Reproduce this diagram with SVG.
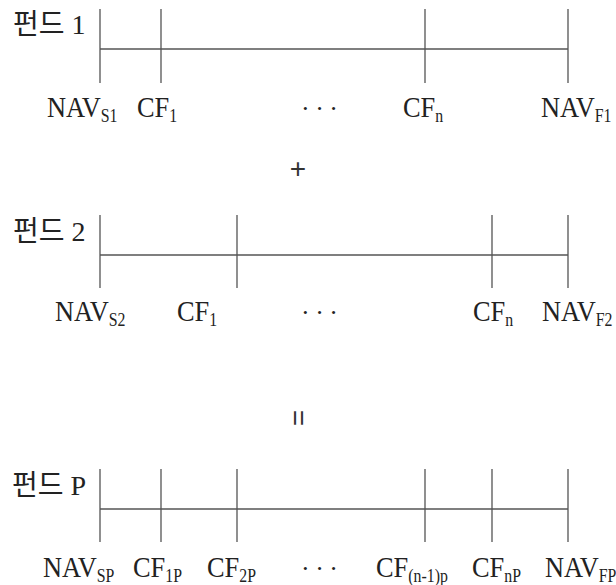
<svg xmlns="http://www.w3.org/2000/svg" width="616" height="585" viewBox="0 0 616 585">
<style>
.ln{stroke:#555;stroke-width:1.3;fill:none}
.t{font-family:"Liberation Serif","Noto Sans CJK KR",serif;font-size:30px;fill:#222}
.h{font-family:"Liberation Serif","Noto Sans CJK KR",serif;font-size:28px;fill:#222}
.s{font-size:18px}
.d{font-family:"Liberation Serif",serif;font-size:26px;fill:#222;letter-spacing:5.5px}
.op{font-family:"Liberation Sans",sans-serif;font-size:28px;fill:#333}
</style>
<rect width="616" height="585" fill="#fff"/>
<g id="fund1">
<text class="h" x="13" y="34">펀드 1</text>
<path class="ln" d="M100,9V83M161,9V83M425,9V83M568,9V83M100,49H568"/>
<text class="t" transform="translate(47,117) scale(0.88,1)">NAV<tspan class="s" dy="5">S1</tspan></text>
<text class="t" transform="translate(137,117) scale(0.88,1)">CF<tspan class="s" dy="5">1</tspan></text>
<text class="d" x="301" y="117">···</text>
<text class="t" transform="translate(403,117) scale(0.88,1)">CF<tspan class="s" dy="5">n</tspan></text>
<text class="t" transform="translate(541,117) scale(0.88,1)">NAV<tspan class="s" dy="5">F1</tspan></text>
</g>
<g id="plus">
<text class="op" x="298" y="178" text-anchor="middle">+</text>
</g>
<g id="fund2">
<text class="h" x="13" y="241">펀드 2</text>
<path class="ln" d="M100,215V288M237,215V288M492,215V288M568,215V288M100,255H568"/>
<text class="t" transform="translate(55,321) scale(0.88,1)">NAV<tspan class="s" dy="5">S2</tspan></text>
<text class="t" transform="translate(177,321) scale(0.88,1)">CF<tspan class="s" dy="5">1</tspan></text>
<text class="d" x="301" y="321">···</text>
<text class="t" transform="translate(473,321) scale(0.88,1)">CF<tspan class="s" dy="5">n</tspan></text>
<text class="t" transform="translate(542,321) scale(0.88,1)">NAV<tspan class="s" dy="5">F2</tspan></text>
</g>
<g id="equals">
<text class="op" x="0" y="0" text-anchor="middle" transform="translate(298.5,418) rotate(90) translate(0,10)">=</text>
</g>
<g id="fundP">
<text class="h" x="12" y="495">펀드 P</text>
<path class="ln" d="M100,469V542M161,469V542M237,469V542M425,469V542M492,469V542M568,469V542M100,509H568"/>
<text class="t" transform="translate(43,577) scale(0.88,1)">NAV<tspan class="s" dy="5">SP</tspan></text>
<text class="t" transform="translate(133,577) scale(0.88,1)">CF<tspan class="s" dy="5">1P</tspan></text>
<text class="t" transform="translate(207,577) scale(0.88,1)">CF<tspan class="s" dy="5">2P</tspan></text>
<text class="d" x="301" y="577">···</text>
<text class="t" transform="translate(376,577) scale(0.88,1)">CF<tspan class="s" dy="5">(n-1)p</tspan></text>
<text class="t" transform="translate(472,577) scale(0.88,1)">CF<tspan class="s" dy="5">nP</tspan></text>
<text class="t" transform="translate(545,577) scale(0.88,1)">NAV<tspan class="s" dy="5">FP</tspan></text>
</g>
</svg>
